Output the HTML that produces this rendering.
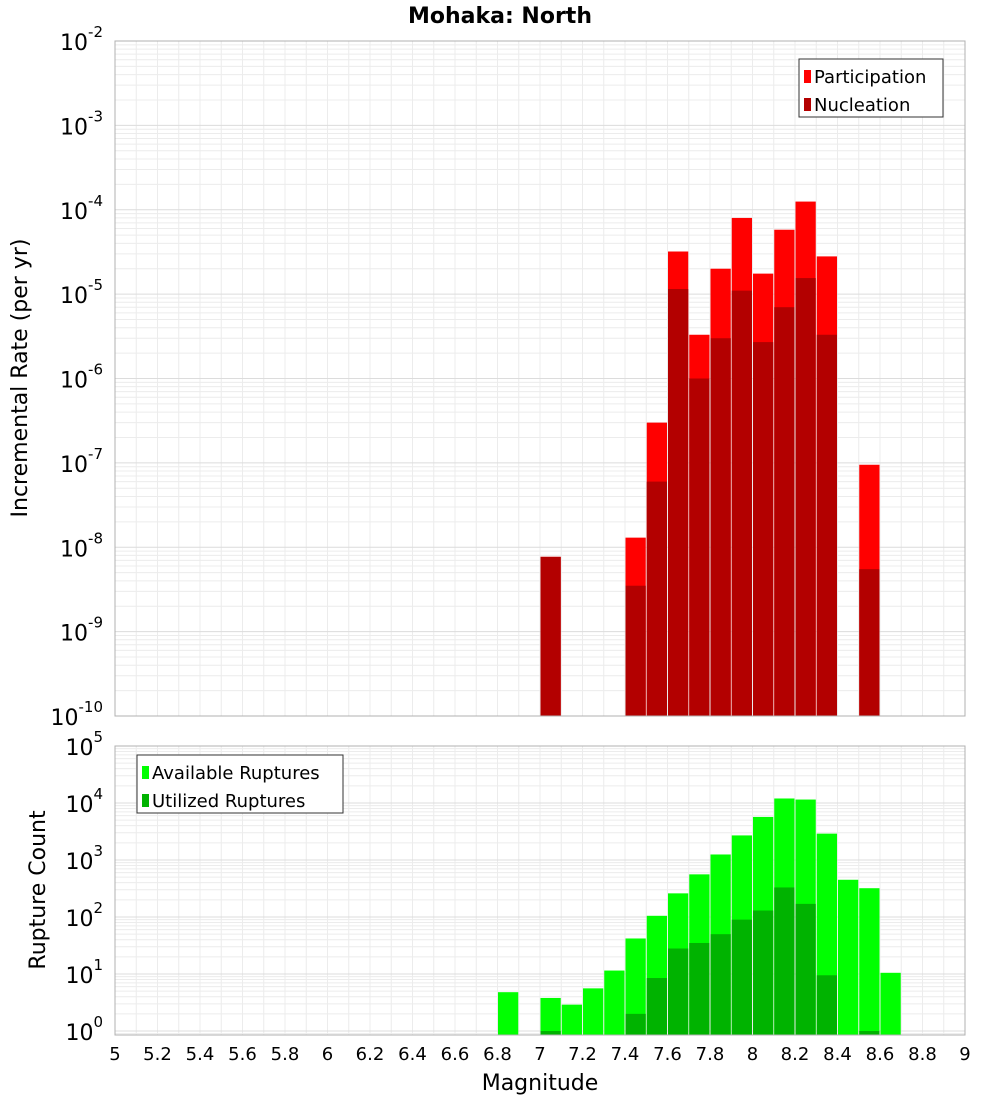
<!DOCTYPE html>
<html><head><meta charset="utf-8"><style>
body{margin:0;background:#fff;font-family:"Liberation Sans","DejaVu Sans",sans-serif}
svg text{font-family:"DejaVu Sans","Liberation Sans",sans-serif}
</style></head><body>
<svg id="chart" width="1000" height="1100" xmlns="http://www.w3.org/2000/svg"></svg>
<script>
const bins=[7.0,7.4,7.5,7.6,7.7,7.8,7.9,8.0,8.1,8.2,8.3,8.5];
const participation=[7.7e-9,1.3e-8,3e-7,3.2e-5,3.3e-6,2e-5,8e-5,1.75e-5,5.8e-5,1.25e-4,2.8e-5,9.5e-8];
const nucleation=[7.7e-9,3.5e-9,6e-8,1.15e-5,1e-6,3e-6,1.1e-5,2.7e-6,7e-6,1.55e-5,3.3e-6,5.5e-9];
const countBins=[6.8,7.0,7.1,7.2,7.3,7.4,7.5,7.6,7.7,7.8,7.9,8.0,8.1,8.2,8.3,8.4,8.5,8.6];
const available=[4.8,3.8,2.9,5.6,11.5,42,105,260,560,1250,2700,5700,12000,11500,2900,450,320,10.5];
const utilized=[0,1,0,0,0,2,8.5,28,35,50,90,130,330,170,9.5,0,1,0];
const xTicks=["5","5.2","5.4","5.6","5.8","6","6.2","6.4","6.6","6.8","7","7.2","7.4","7.6","7.8","8","8.2","8.4","8.6","8.8","9"];

const NS="http://www.w3.org/2000/svg",svg=document.getElementById('chart');
function mk(t,a,p){const e=document.createElementNS(NS,t);for(const k in a)e.setAttribute(k,a[k]);(p||svg).appendChild(e);return e;}
const X0=115,X1=965;
const x=m=>X0+(m-5)/4*(X1-X0);
const T={top:41,bot:716,lo:-10,hi:-2};
const B={top:746,bot:1035,lo:-0.07,hi:5};
const yT=v=>T.top+(T.hi-Math.log10(v))/(T.hi-T.lo)*(T.bot-T.top);
const yB=v=>B.top+(B.hi-Math.log10(v))/(B.hi-B.lo)*(B.bot-B.top);

function grid(P,yf,dLo,dHi){
  const g=mk('g',{});
  
  for(let i=0;i<=40;i++){const xx=x(5+i*0.1);mk('line',{x1:xx,x2:xx,y1:P.top,y2:P.bot,stroke:'#ececec','stroke-width':1},g);}
  for(let d=dLo;d<dHi;d++)for(let k=1;k<10;k++){const yy=yf(k*Math.pow(10,d));if(yy<P.top||yy>P.bot)continue;
    mk('line',{x1:X0,x2:X1,y1:yy,y2:yy,stroke:k==1?'#dcdcdc':'#ececec','stroke-width':1},g);}
}
grid(T,yT,-10,-2);grid(B,yB,-1,5);

function bars(binsA,vals,yf,P,col,name){
  const g=mk('g',{});
  binsA.forEach((m,i)=>{const v=vals[i];if(!(v>0))return;const yy=Math.max(yf(v),P.top);
    const r=mk('rect',{x:x(m)+0.5,y:yy,width:x(m+0.1)-x(m)-1,height:P.bot-yy,fill:col},g);
    });
}
bars(bins,participation,yT,T,'#ff0000','participation');
bars(bins,nucleation,yT,T,'#b30000','nucleation');
bars(countBins,available,yB,B,'#00ff00','available');
bars(countBins,utilized,yB,B,'#00b300','utilized');

[T,B].forEach((P,i)=>{const r=mk('rect',{x:X0,y:P.top,width:X1-X0,height:P.bot-P.top,fill:'none',stroke:'#b0b0b0'});
  });

function ylab(P,yf,lo,hi,pre){
  for(let d=lo;d<=hi;d++){const yy=yf(Math.pow(10,d));
    const t=mk('text',{x:103,y:yy+9,'text-anchor':'end','font-size':22,fill:'#000'});
    
    t.textContent='10';const s=mk('tspan',{dy:-13,'font-size':15},t);s.textContent=String(d);}
}
ylab(T,yT,-10,-2,'top-y');ylab(B,yB,0,5,'bottom-y');

xTicks.forEach(s=>{const t=mk('text',{x:x(parseFloat(s)),y:1060,'text-anchor':'middle','font-size':18});
  t.textContent=s;});

function txt(s,a,n){const t=mk('text',a);t.textContent=s;return t;}
txt('Mohaka: North',{x:500,y:23,'text-anchor':'middle','font-size':22,'font-weight':'bold'},'chart-title');
txt('Magnitude',{x:540,y:1090,'text-anchor':'middle','font-size':22},'x-axis-title');
txt('Incremental Rate (per yr)',{x:27,y:378,'text-anchor':'middle','font-size':22,transform:'rotate(-90 27 378)'},'top-y-axis-title');
txt('Rupture Count',{x:45,y:890,'text-anchor':'middle','font-size':22,transform:'rotate(-90 45 890)'},'bottom-y-axis-title');

function legend(x0,y0,w,items,n){
  const g=mk('g',{});
  mk('rect',{x:x0,y:y0,width:w,height:58,fill:'#fff',stroke:'#333'},g);
  items.forEach((it,i)=>{mk('rect',{x:x0+5,y:y0+11+i*28,width:7,height:13,fill:it[1]},g);
    const t=mk('text',{x:x0+15,y:y0+24+i*28,'font-size':18},g);t.textContent=it[0];});
}
legend(799,59,144,[['Participation','#ff0000'],['Nucleation','#b30000']],'top-legend');
legend(137,755,206,[['Available Ruptures','#00ff00'],['Utilized Ruptures','#00b300']],'bottom-legend');
</script></body></html>
